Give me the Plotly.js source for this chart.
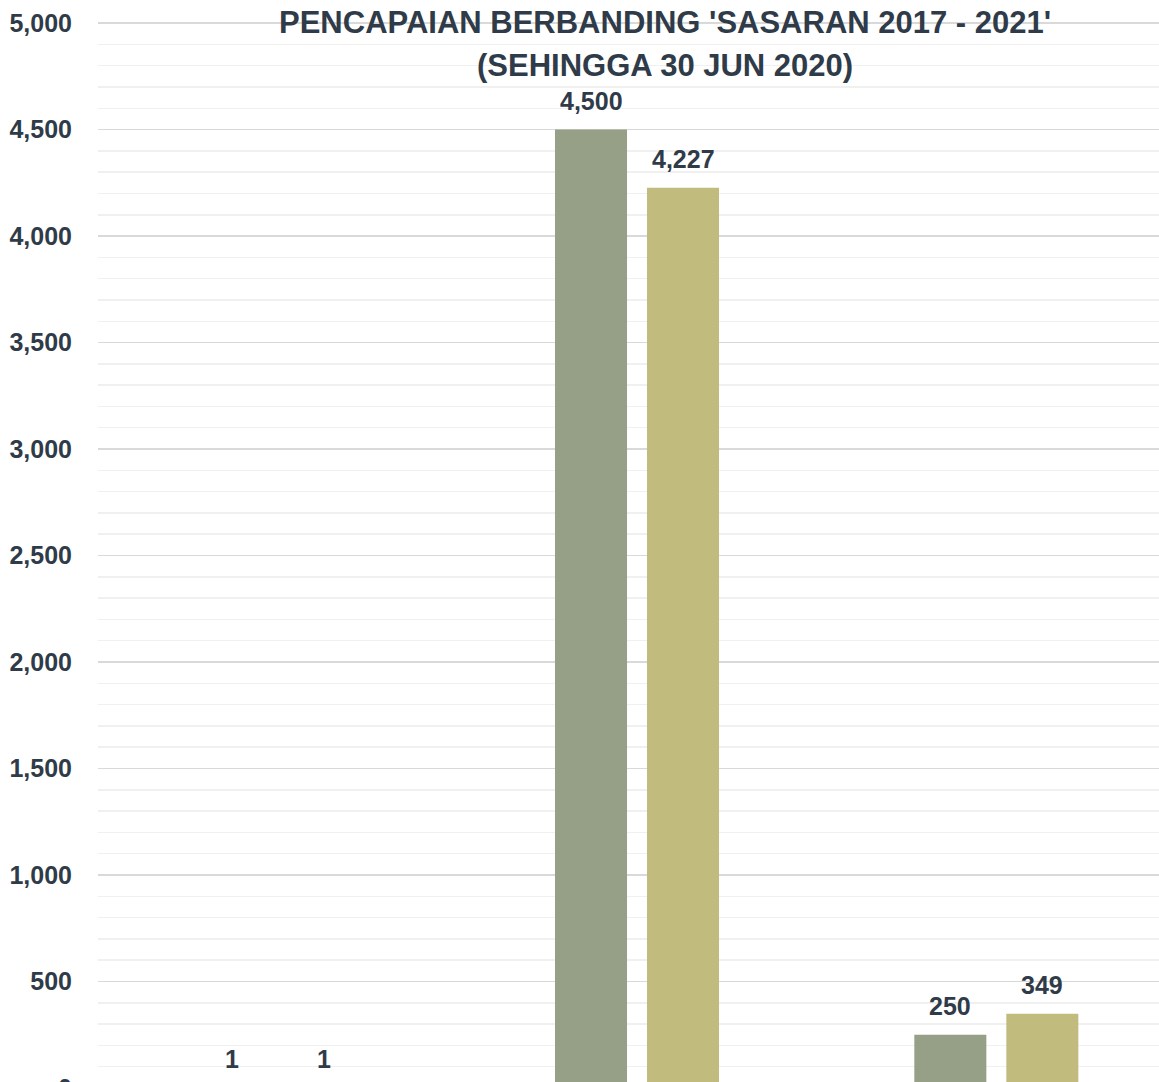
<!DOCTYPE html>
<html>
<head>
<meta charset="utf-8">
<script src="https://cdn.plot.ly/plotly-3.0.1.min.js"></script>
<style>
html,body{margin:0;padding:0;overflow:hidden;background:#fff;}
#chart{width:1200px;height:1128px;}
</style>
</head>
<body>
<div id="chart"></div>
<script>
const categories = ['Kategori 1', 'Kategori 2', 'Kategori 3'];
const seriesNames = ['Sasaran 2017 - 2021', 'Pencapaian'];
const sasaran = [1, 4500, 250];
const pencapaian = [1, 4227, 349];
const yTickVals = [0, 500, 1000, 1500, 2000, 2500, 3000, 3500, 4000, 4500, 5000];
const titleLines = ["PENCAPAIAN BERBANDING 'SASARAN 2017 - 2021'", "(SEHINGGA 30 JUN 2020)"];

const FONT = '"Liberation Sans Narrow", "Arial Narrow", "Liberation Sans", Arial, sans-serif';
const TXT = '#2F3B48';
const fmt = v => v.toLocaleString('en-US');
const colors = ['#95A086', '#C2BB7E'];
const series = [sasaran, pencapaian];

const traces = series.map((vals, i) => ({
  type: 'bar', name: seriesNames[i], x: categories, y: vals,
  marker: {color: colors[i]}, hoverinfo: 'x+y'
}));

// value labels placed above each bar (offset within the group)
const labelAnns = [];
series.forEach((vals, i) => {
  vals.forEach((v, j) => {
    labelAnns.push({
      x: categories[j], y: v, xref: 'x', yref: 'y',
      text: fmt(v), showarrow: false,
      xanchor: 'center', yanchor: 'bottom',
      xshift: i === 0 ? -46 : 46, yshift: 13,
      font: {family: FONT, size: 25, color: TXT, weight: 'bold'}
    });
  });
});

const titleAnns = titleLines.map((t, k) => ({
  text: t, xref: 'paper', yref: 'paper',
  x: 0.526, y: k === 0 ? 1.0 : 0.9596,
  xanchor: 'center', yanchor: 'middle', showarrow: false,
  font: {family: FONT, size: 31, color: TXT, weight: 'bold'}
}));

const layout = {
  width: 1200, height: 1128,
  margin: {l: 98, r: 24, t: 22, b: 40},
  paper_bgcolor: '#fff', plot_bgcolor: '#fff',
  showlegend: false,
  barmode: 'group', bargap: 0.488, bargroupgap: 0.217,
  font: {family: FONT, color: TXT},
  xaxis: {
    showticklabels: false, showgrid: false, zeroline: false, showline: false,
    ticks: ''
  },
  yaxis: {
    range: [0, 5005], tickvals: yTickVals, ticktext: yTickVals.map(fmt),
    tickfont: {family: FONT, size: 25, color: TXT, weight: 'bold'},
    ticks: '', ticklabelstandoff: 25,
    showgrid: true, gridcolor: '#D9D9D9', gridwidth: 1.5,
    zeroline: false, showline: false,
    minor: {dtick: 100, showgrid: true, gridcolor: '#F0F0F0', gridwidth: 1.5}
  },
  annotations: titleAnns.concat(labelAnns)
};

Plotly.newPlot('chart', traces, layout, {displayModeBar: false, staticPlot: true});
</script>
</body>
</html>
